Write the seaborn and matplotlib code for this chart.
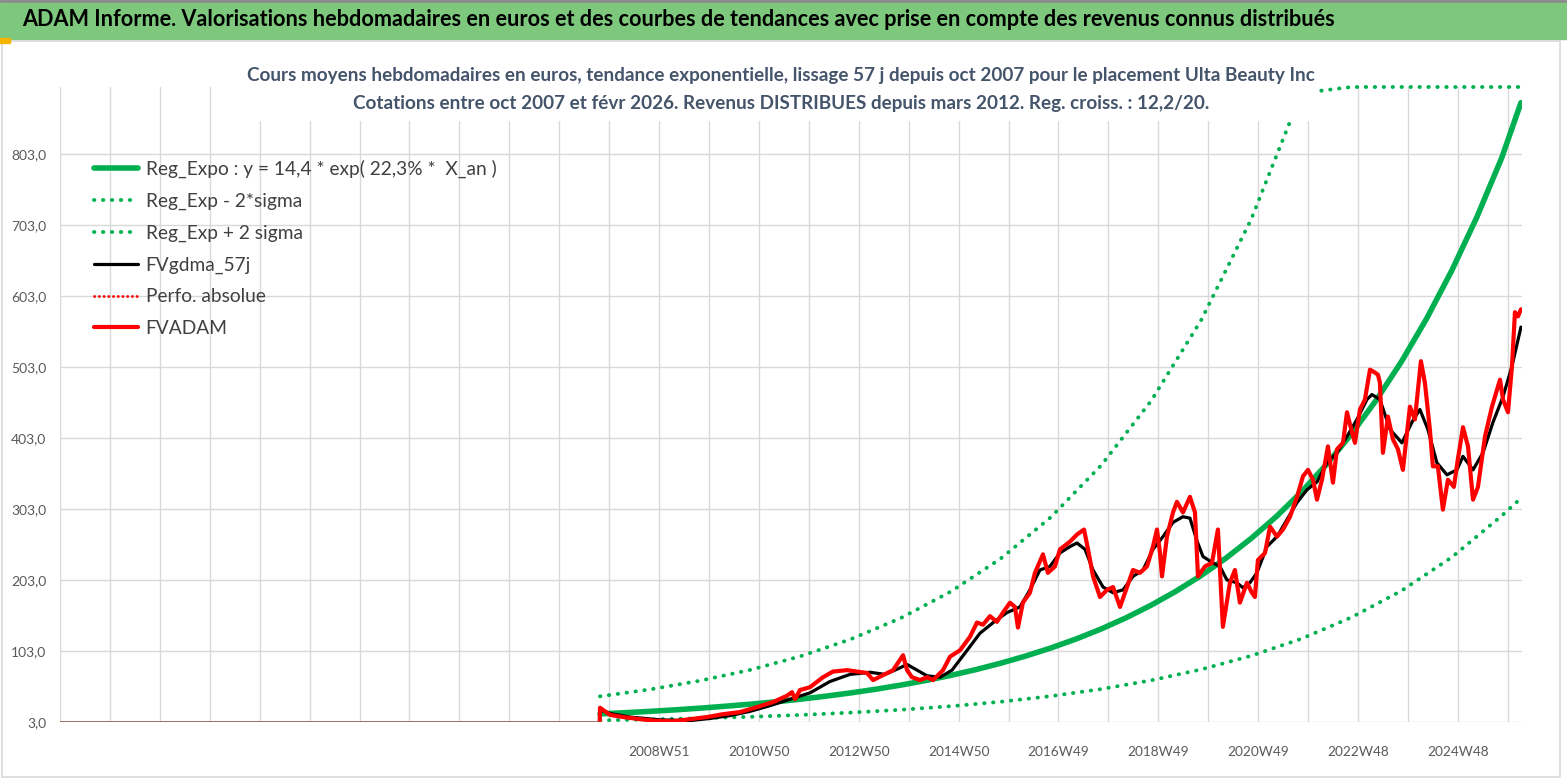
import datetime as dt
import numpy as np
import pandas as pd
import matplotlib
matplotlib.use("Agg")
import matplotlib.pyplot as plt
import seaborn as sns
from matplotlib.patches import Rectangle

# Weekly prices (decimal year -> euros)
red_years = [2007.770, 2007.776, 2007.836, 2007.976, 2008.235, 2008.575, 2008.914, 2009.233,
             2009.573, 2009.912, 2010.231, 2010.571, 2010.910, 2011.229, 2011.509, 2011.609,
             2011.669, 2011.768, 2011.968, 2012.227, 2012.427, 2012.706, 2012.906, 2013.106,
             2013.225, 2013.425, 2013.625, 2013.824, 2013.904, 2014.004, 2014.164, 2014.303,
             2014.423, 2014.623, 2014.763, 2014.962, 2015.162, 2015.301, 2015.421, 2015.561,
             2015.700, 2015.820, 2015.960, 2016.060, 2016.120, 2016.219, 2016.359, 2016.459,
             2016.619, 2016.718, 2016.858, 2016.958, 2017.157, 2017.297, 2017.437, 2017.517,
             2017.617, 2017.756, 2017.896, 2018.016, 2018.156, 2018.295, 2018.415, 2018.555,
             2018.694, 2018.814, 2018.894, 2018.954, 2018.994, 2019.094, 2019.214, 2019.293,
             2019.413, 2019.553, 2019.653, 2019.713, 2019.852, 2019.992, 2020.112, 2020.211,
             2020.351, 2020.451, 2020.551, 2020.691, 2020.790, 2020.850, 2020.910, 2021.050,
             2021.150, 2021.289, 2021.409, 2021.549, 2021.689, 2021.808, 2021.908, 2022.008,
             2022.088, 2022.187, 2022.307, 2022.407, 2022.487, 2022.607, 2022.687, 2022.786,
             2022.846, 2022.946, 2023.046, 2023.146, 2023.245, 2023.305, 2023.345, 2023.405,
             2023.505, 2023.605, 2023.705, 2023.804, 2023.944, 2024.044, 2024.164, 2024.243,
             2024.343, 2024.403, 2024.503, 2024.603, 2024.703, 2024.822, 2024.902, 2025.002,
             2025.102, 2025.202, 2025.301, 2025.441, 2025.581, 2025.741, 2025.801, 2025.900,
             2025.980, 2026.040, 2026.100, 2026.160]
red_values = [3, 23, 20, 13, 10, 7, 4.5, 4,
              7, 10, 14, 17, 24, 31, 40, 45,
              35, 48, 52, 66, 74, 76, 74, 72,
              62, 69, 76, 97, 76, 66, 62, 66,
              62, 76, 95, 104, 123, 143, 140, 152,
              144, 157, 171, 165, 136, 171, 185, 213,
              239, 213, 222, 246, 257, 267, 274, 246,
              208, 179, 189, 193, 165, 193, 217, 213,
              222, 250, 274, 241, 208, 264, 298, 313,
              298, 320, 298, 208, 222, 227, 274, 137,
              199, 217, 171, 199, 185, 179, 231, 241,
              278, 264, 274, 292, 320, 349, 358, 344,
              316, 344, 391, 340, 387, 396, 439, 411,
              396, 443, 457, 499, 495, 492, 481, 382,
              433, 401, 387, 358, 447, 429, 511, 481,
              415, 363, 363, 302, 344, 334, 373, 418,
              391, 316, 334, 405, 447, 485, 457, 439,
              504, 580, 574, 584]

# 57-day smoothed valuation (FVgdma_57j)
black_years = [2007.776, 2007.976, 2008.375, 2008.974, 2009.573, 2009.972, 2010.371, 2010.770,
               2011.170, 2011.569, 2011.968, 2012.367, 2012.766, 2013.166, 2013.465, 2013.725,
               2013.904, 2014.104, 2014.303, 2014.563, 2014.802, 2015.062, 2015.361, 2015.661,
               2015.900, 2016.160, 2016.359, 2016.559, 2016.758, 2016.958, 2017.157, 2017.297,
               2017.457, 2017.617, 2017.816, 2018.016, 2018.215, 2018.415, 2018.615, 2018.814,
               2019.014, 2019.214, 2019.413, 2019.553, 2019.693, 2019.812, 2020.012, 2020.152,
               2020.291, 2020.491, 2020.611, 2020.750, 2020.890, 2021.090, 2021.289, 2021.489,
               2021.689, 2021.888, 2022.088, 2022.287, 2022.487, 2022.687, 2022.886, 2023.086,
               2023.186, 2023.345, 2023.545, 2023.784, 2023.984, 2024.144, 2024.303, 2024.483,
               2024.683, 2024.882, 2025.002, 2025.202, 2025.401, 2025.601, 2025.801, 2025.980,
               2026.160]
black_values = [20, 15, 10, 6, 5, 8, 12, 18,
                26, 35, 44, 60, 70, 73, 70, 78,
                84, 76, 68, 66, 76, 100, 128, 145,
                157, 165, 189, 217, 222, 241, 250, 255,
                246, 217, 193, 185, 189, 208, 217, 246,
                264, 284, 292, 290, 258, 236, 227, 222,
                203, 199, 192, 199, 213, 250, 264, 288,
                312, 330, 341, 368, 382, 405, 429, 457,
                464, 457, 415, 396, 425, 443, 415, 368,
                351, 358, 377, 358, 382, 425, 461, 504,
                559]

# Exponential trend (Reg_Expo), half-yearly readings
trend_years = [2007.776, 2008.276, 2008.776, 2009.276, 2009.776, 2010.276, 2010.776, 2011.276,
               2011.776, 2012.276, 2012.776, 2013.276, 2013.776, 2014.276, 2014.776, 2015.276,
               2015.776, 2016.276, 2016.776, 2017.276, 2017.776, 2018.276, 2018.776, 2019.276,
               2019.776, 2020.276, 2020.776, 2021.276, 2021.776, 2022.276, 2022.776, 2023.276,
               2023.776, 2024.276, 2024.776, 2025.276, 2025.776, 2026.160]
trend_values = [14.4, 16.1, 18.0, 20.1, 22.5, 25.2, 28.1, 31.4,
                35.1, 39.3, 43.9, 49.1, 54.9, 61.4, 68.6, 76.7,
                85.8, 95.9, 107.2, 119.8, 133.9, 149.7, 167.4, 187.2,
                209.2, 233.9, 261.5, 292.3, 326.8, 365.4, 408.5, 456.6,
                510.5, 570.7, 638.0, 713.3, 797.4, 875.0]

# +/- 2 sigma bands, yearly readings
band_years = [2007.776, 2008.776, 2009.776, 2010.776, 2011.776, 2012.776, 2013.776, 2014.776,
              2015.776, 2016.776, 2017.776, 2018.776, 2019.776, 2020.776, 2021.776, 2022.776,
              2023.776, 2024.776, 2025.776, 2026.160]
band_low = [5.3, 6.6, 8.3, 10.3, 12.9, 16.2, 20.2, 25.2,
            31.5, 39.4, 49.3, 61.6, 77.0, 96.2, 120.2, 150.3,
            187.8, 234.7, 293.4, 318.0]
band_high = [39.1, 48.9, 61.2, 76.4, 95.5, 119.4, 149.2, 186.5,
             233.1, 291.3, 364.1, 455.0, 568.7, 710.8, 888.4, 1110.0,
             1388.0, 1734.0, 2168.0, 2360.0]

# empty weeks before the listing, drawn on the axis floor
pre_years = [1996.99, 2007.770]
pre_values = [0.0, 0.0]

tick_labels = ["2008W51", "2010W50", "2012W50", "2014W50", "2016W49",
               "2018W49", "2020W49", "2022W48", "2024W48"]
y_ticks = [3, 103, 203, 303, 403, 503, 603, 703, 803]
y_bottom, y_top = 3, 897

banner = ("ADAM Informe. Valorisations hebdomadaires en euros et des courbes de tendances "
          "avec prise en compte des revenus connus distribués")
subtitle1 = ("Cours moyens hebdomadaires en euros, tendance exponentielle, lissage 57 j "
             "depuis oct 2007 pour le placement Ulta Beauty Inc")
subtitle2 = ("Cotations entre oct 2007 et févr 2026. Revenus DISTRIBUES depuis mars 2012. "
             "Reg. croiss. : 12,2/20.")


def to_dates(years):
    y = np.asarray(years, dtype=float)
    whole = np.floor(y).astype(int)
    starts = pd.to_datetime([f"{w}-01-01" for w in whole])
    return starts + pd.to_timedelta((y - whole) * 365.25, unit="D")


sns.set_style("white")
plt.rcParams["font.family"] = ["Lato", "DejaVu Sans"]

fig = plt.figure(figsize=(15.67, 7.83), dpi=100)
ax = fig.add_axes([60 / 1567, 61 / 783, 1462 / 1567, 635 / 783])

dotted = dict(linestyle=(0, (0.1, 2.2)), dash_capstyle="round", lw=2.8, color="#00B050")

sns.lineplot(x=to_dates(trend_years), y=trend_values, ax=ax, color="#00B050", lw=4.0,
             label="Reg_Expo : y = 14,4 * exp( 22,3% *  X_an )")
sns.lineplot(x=to_dates(band_years), y=band_low, ax=ax, label="Reg_Exp - 2*sigma", **dotted)
# Excel keeps the off-scale part of the band on the top edge
sns.lineplot(x=to_dates(band_years), y=np.minimum(band_high, y_top), ax=ax,
             label="Reg_Exp + 2 sigma", clip_on=False, **dotted)
sns.lineplot(x=to_dates(black_years), y=black_values, ax=ax, color="black", lw=2.3,
             label="FVgdma_57j")
ax.plot([], [], color="red", linestyle=(0, (0.1, 1.6)), dash_capstyle="round", lw=2,
        label="Perfo. absolue")
sns.lineplot(x=to_dates(red_years), y=red_values, ax=ax, color="#FF0000", lw=3.0,
             label="FVADAM")
ax.plot(to_dates(pre_years), np.clip(pre_values, y_bottom, None), color="#8C4A3C", lw=1.1)

# category axis: gridline every 52 weeks, label every 104 weeks
label_dates = [dt.date.fromisocalendar(int(s[:4]), int(s[5:]), 1) for s in tick_labels]
x_left, x_right = pd.Timestamp("1996-12-30"), pd.Timestamp("2026-03-08")
grid_dates = [pd.Timestamp(label_dates[0] + dt.timedelta(weeks=52 * k)) for k in range(-12, 18)]
grid_dates = [d for d in grid_dates if x_left <= d <= x_right]
names = {pd.Timestamp(d): s for d, s in zip(label_dates, tick_labels)}
ax.set_xticks(grid_dates)
ax.set_xticklabels([names.get(d, "") for d in grid_dates])
ax.set_xlim(x_left, x_right)
ax.set_yticks(y_ticks)
ax.set_yticklabels([f"{v:.1f}".replace(".", ",") for v in y_ticks])
ax.set_ylim(y_bottom, y_top)
ax.grid(True, color="#D9D9D9", lw=1.0)
ax.tick_params(axis="x", length=5, color="#D9D9D9", pad=12, labelsize=9.8, labelcolor="#595959")
ax.tick_params(axis="y", length=0, pad=10, labelsize=10, labelcolor="#595959")
for s in ax.spines.values():
    s.set_visible(False)
ax.set_xlabel("")
ax.set_ylabel("")

leg = ax.legend(loc="upper left", bbox_to_anchor=(0.018, 0.897), frameon=False, fontsize=13.8,
                handlelength=2.3, handletextpad=0.4, labelspacing=0.76, borderaxespad=0)
for t in leg.get_texts():
    t.set_color("#404040")

# banner, frame and title block
fig.add_artist(Rectangle((0, 1 - 2 / 783), 1, 2 / 783, transform=fig.transFigure,
                         color="#8C8C8C", zorder=1))
fig.add_artist(Rectangle((0, 1 - 39 / 783), 1, 36 / 783, transform=fig.transFigure,
                         color="#7DC87D", zorder=1))
fig.add_artist(Rectangle((2 / 1567, 6 / 783), 1558 / 1567, 736 / 783, transform=fig.transFigure,
                         facecolor="none", edgecolor="#D9D9D9", lw=1.2, zorder=1))
fig.add_artist(Rectangle((0, 1 - 43 / 783), 10 / 1567, 5 / 783, transform=fig.transFigure,
                         color="#F5B400", zorder=1))
fig.add_artist(Rectangle((236 / 1567, 1 - 120 / 783), 1080 / 1567, 66 / 783,
                         transform=fig.transFigure, color="white", zorder=2))
fig.text(22 / 1567, 1 - 20 / 783, banner, ha="left", va="center", fontsize=15.6,
         fontweight="bold", color="black")
fig.text(781 / 1567, 1 - 75 / 783, subtitle1, ha="center", va="center", fontsize=13.6,
         fontweight="bold", color="#44546A")
fig.text(781 / 1567, 1 - 103 / 783, subtitle2, ha="center", va="center", fontsize=13.6,
         fontweight="bold", color="#44546A")

fig.savefig("out.png", dpi=100, facecolor="white")
